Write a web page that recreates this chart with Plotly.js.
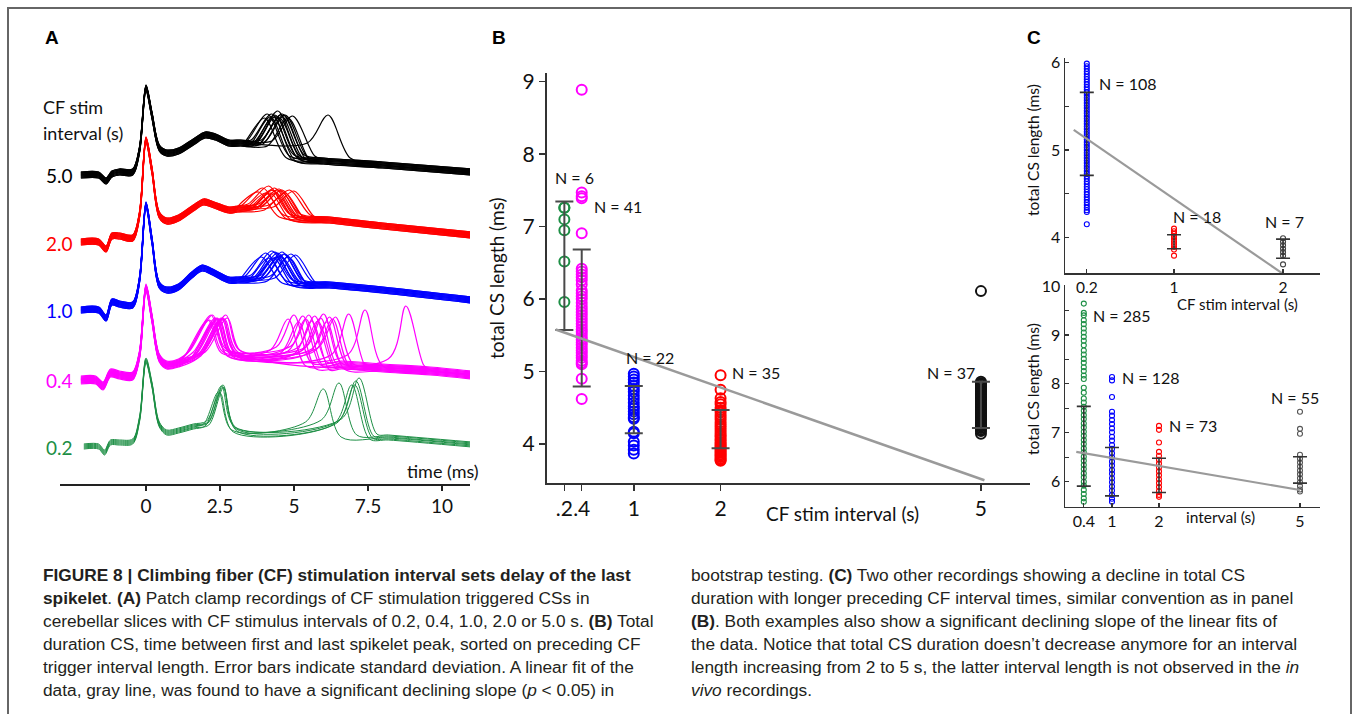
<!DOCTYPE html>
<html><head><meta charset="utf-8">
<script src="https://cdn.plot.ly/plotly-3.0.1.min.js"></script>
<style>html,body{margin:0;padding:0;background:#fff;}#chart{width:1354px;height:714px;}</style>
</head><body><div id="chart"></div>
<script>
// ================= DATA =================
// ---- Panel A: complex-spike waveforms (time ms, potential a.u. incl. stacking offset) ----
const aIntervalLabels = ['5.0', '2.0', '1.0', '0.4', '0.2'];
const aTickVals = [0, 2.5, 5, 7.5, 10];

// 5.0 s (black)
const blackPreT = [-2.2, -1.6, -1.35, -1.15, -0.9, -0.45, -0.22, 0, 0.2, 0.45, 0.7, 1.1, 1.6, 2.0, 2.35, 2.8, 3.2];
const blackPreV = [309, 309, 303, 310, 312, 312, 334, 396, 369, 336, 331, 333, 342, 349, 347, 341, 341];
const blackLastT = [4.0, 4.1, 4.2, 4.25, 4.3, 4.35, 4.4, 4.45, 4.5, 4.55, 4.6, 4.65, 4.7, 4.8, 4.95, 6.15];
const blackLastV = [366, 368, 369, 367, 370, 368, 369, 371, 368, 369, 367, 370, 368, 369, 366, 369];
const blackShift = [0, 2, -2, 3, -3, 1, -1, 2, -2, 0, 3, -1, 1, -3, 2, 0];
const blackTailT = [6.0, 8.0, 11.0];
const blackTailV = [323, 319, 312];
const blackEdges = [341, 326]; // level before / after last spikelet

// 2.0 s (red)
const redPreT = [-2.2, -1.6, -1.35, -1.15, -0.9, -0.45, -0.22, 0, 0.2, 0.45, 0.7, 1.1, 1.6, 1.95, 2.3, 2.8, 3.1];
const redPreV = [242, 242, 235, 248, 248, 246, 269, 344, 314, 269, 263, 266, 276, 282, 279, 274, 275];
const redLastT = [3.8, 3.95, 4.05, 4.15, 4.2, 4.25, 4.3, 4.35, 4.4, 4.45, 4.5, 4.55, 4.6, 4.7, 4.85, 5.0];
const redLastV = [292, 294, 293, 295, 294, 293, 295, 294, 293, 294, 292, 294, 293, 294, 292, 293];
const redShift = [0, 2, -2, 3, -3, 1, -1, 2, -2, 0, 3, -1, 1, -3, 2, 0];
const redTailT = [6.2, 8.0, 11.0];
const redTailV = [264, 258, 249];
const redEdges = [277, 267];

// 1.0 s (blue)
const bluePreT = [-2.2, -1.6, -1.35, -1.15, -0.9, -0.45, -0.22, 0, 0.2, 0.45, 0.7, 1.1, 1.55, 1.9, 2.25, 2.8, 3.1];
const bluePreV = [174, 174, 166, 182, 180, 179, 204, 279, 244, 199, 194, 197, 209, 216, 212, 204, 204];
const blueLastT = [3.9, 4.05, 4.15, 4.25, 4.3, 4.35, 4.4, 4.45, 4.5, 4.55, 4.6, 4.65, 4.7, 4.8, 4.9, 5.05];
const blueLastV = [227, 229, 228, 230, 229, 231, 228, 229, 230, 228, 229, 231, 229, 230, 228, 229];
const blueShift = [0, 2, -2, 3, -3, 1, -1, 2, -2, 0, 3, -1, 1, -3, 2, 0];
const blueTailT = [6.2, 8.0, 11.0];
const blueTailV = [199, 194, 184];
const blueEdges = [206, 201];

// 0.4 s (magenta)
const magPreT = [-2.2, -1.7, -1.45, -1.2, -0.9, -0.45, -0.22, 0, 0.2, 0.45, 0.7, 1.1];
const magPreV = [104, 104, 98, 111, 109, 108, 129, 196, 166, 126, 119, 121];
const magSecT = [2.1, 2.2, 2.3, 2.15, 2.4, 2.25, 2.5, 2.35, 2.6, 2.45, 2.7, 2.3, 2.55, 2.4, 2.75, 2.5, 2.6, 2.65];
const magSecV = [164, 166, 165, 163, 167, 165, 166, 164, 167, 165, 166, 163, 165, 166, 164, 165, 166, 164];
const magLastT = [4.8, 5.0, 5.15, 5.3, 5.4, 5.5, 5.6, 5.7, 5.8, 5.9, 6.0, 6.1, 6.2, 6.3, 6.4, 6.85, 7.4, 8.78];
const magLastV = [165, 166, 165, 167, 166, 165, 167, 166, 165, 166, 167, 165, 166, 166, 165, 172, 174, 177];
const magLastBase = [134, 134, 134, 134, 134, 134, 134, 134, 134, 134, 134, 134, 134, 134, 134, 131, 129, 124];
const magShift = [0, 3, -3, 1, -1, 4, -4, 2, -2, 0, 3, -3, 1, -1, 2, -2, 0, 1];
const magTailT = [6.6, 8.0, 9.6, 11.0];
const magTailV = [119, 116, 113, 109];
const magEdges = [130, 131, 118]; // before 2nd, after 2nd, after last

// 0.2 s (green)
const greenPreT = [-2.1, -1.6, -1.4, -1.2, -0.9, -0.45, -0.22, 0, 0.2, 0.45, 0.7, 1.1, 1.6];
const greenPreV = [37, 37, 31, 41, 41, 42, 64, 123, 99, 59, 51, 53, 57];
const greenSecT = [2.45, 2.6, 2.5, 2.6, 2.55, 2.62];
const greenSecV = [92, 97, 93, 96, 95, 97];
const greenLastT = [5.99, 6.52, 6.95, 7.09, 7.2, 7.05];
const greenLastV = [95, 99, 101, 102, 103, 100];
const greenLastBase = [62, 62, 62, 62, 62, 62];
const greenShift = [0, 2, -2, 1, 3, -1];
const greenTailT = [8.2, 11.0];
const greenTailV = [46, 39];
const greenEdges = [60, 54, 47];

// ---- Panel B: total CS length (ms) per CF stim interval (s) ----
const bIntervals = [0.2, 0.4, 1, 2, 5];
const bTickText = ['.2', '.4', '1', '2', '5'];
const bGreen = [7.26, 7.10, 6.95, 6.52, 5.96, 7.26];
const bMagenta = [8.89, 7.47, 7.42, 7.39, 6.91, 6.42, 6.38, 6.34, 6.30, 6.26, 6.20, 6.12, 6.08, 6.04, 6.00, 5.95, 5.90, 5.86, 5.82, 5.78, 5.74, 5.70, 5.66, 5.62, 5.58, 5.55, 5.51, 5.47, 5.44, 5.40, 5.37, 5.33, 5.29, 5.26, 5.22, 5.19, 5.15, 5.12, 5.10, 4.90, 4.62];
const bBlue = [4.97, 4.93, 4.89, 4.85, 4.80, 4.76, 4.72, 4.67, 4.62, 4.57, 4.52, 4.49, 4.45, 4.41, 4.37, 4.35, 4.17, 4.15, 4.03, 3.98, 3.92, 3.87];
const bRed = [4.95, 4.75, 4.63, 4.58, 4.55, 4.50, 4.47, 4.44, 4.40, 4.37, 4.34, 4.30, 4.27, 4.24, 4.21, 4.18, 4.15, 4.12, 4.10, 4.07, 4.05, 4.02, 4.00, 3.98, 3.96, 3.94, 3.92, 3.90, 3.88, 3.86, 3.84, 3.82, 3.80, 3.78, 3.77];
const bBlack = [6.11, 4.86, 4.84, 4.82, 4.80, 4.78, 4.76, 4.74, 4.72, 4.70, 4.68, 4.66, 4.64, 4.62, 4.60, 4.58, 4.56, 4.54, 4.52, 4.50, 4.48, 4.46, 4.44, 4.42, 4.40, 4.38, 4.36, 4.34, 4.32, 4.30, 4.28, 4.26, 4.24, 4.22, 4.20, 4.18, 4.14];
const bMean = [6.46, 5.74, 4.475, 4.205, 4.54];
const bSd = [0.885, 0.945, 0.325, 0.265, 0.32];
const bFitX = [0.1, 5.04];
const bFitY = [5.58, 3.50];
const bNText = ['N = 6', 'N = 41', 'N = 22', 'N = 35', 'N = 37'];
const bNX = [0.07, 0.52, 0.89, 2.11, 4.35];
const bNY = [7.68, 7.28, 5.19, 4.99, 4.99];

// ---- Panel C (top): second recording ----
const cTopIntervals = [0.2, 1, 2];
const cTopBlue = [5.99, 5.96, 5.93, 5.90, 5.87, 5.84, 5.81, 5.78, 5.75, 5.72, 5.69, 5.66, 5.63, 5.60, 5.57, 5.54, 5.51, 5.48, 5.45, 5.42, 5.39, 5.36, 5.33, 5.30, 5.27, 5.24, 5.21, 5.18, 5.15, 5.12, 5.09, 5.06, 5.03, 5.00, 4.97, 4.94, 4.91, 4.88, 4.85, 4.82, 4.79, 4.76, 4.73, 4.70, 4.67, 4.64, 4.61, 4.58, 4.55, 4.52, 4.49, 4.46, 4.43, 4.40, 4.37, 4.34, 4.31, 4.29, 4.15];
const cTopRed = [4.10, 4.07, 4.04, 4.01, 3.98, 3.95, 3.92, 3.89, 3.86, 3.79];
const cTopBlack = [3.99, 3.95, 3.91, 3.87, 3.83, 3.79, 3.69];
const cTopMean = [5.185, 3.95, 3.87];
const cTopSd = [0.475, 0.08, 0.11];
const cTopFitX = [0.08, 1.99];
const cTopFitY = [5.23, 3.59];
const cTopNText = ['N = 108', 'N = 18', 'N = 7'];
const cTopNX = [0.29, 0.97, 1.82];
const cTopNY = [5.76, 4.24, 4.18];

// ---- Panel C (bottom): third recording ----
const cBotIntervals = [0.4, 1, 2, 5];
const cBotGreen = [9.64, 9.45, 9.40, 9.30, 9.22, 9.13, 9.05, 8.96, 8.88, 8.79, 8.68, 8.60, 8.51, 8.43, 8.34, 8.26, 8.17, 8.10, 7.92, 7.82, 7.70, 7.62, 7.53, 7.45, 7.36, 7.28, 7.19, 7.11, 7.02, 6.94, 6.85, 6.77, 6.68, 6.60, 6.51, 6.43, 6.34, 6.26, 6.17, 6.09, 6.00, 5.92, 5.83, 5.75, 5.66, 5.59];
const cBotBlue = [8.14, 8.07, 7.73, 7.43, 7.35, 7.26, 7.18, 7.09, 7.01, 6.92, 6.84, 6.75, 6.67, 6.58, 6.50, 6.41, 6.33, 6.24, 6.16, 6.07, 5.99, 5.90, 5.82, 5.73, 5.65, 5.59];
const cBotRed = [7.14, 7.06, 6.80, 6.61, 6.53, 6.45, 6.37, 6.29, 6.21, 6.13, 6.05, 5.97, 5.89, 5.81, 5.73, 5.69];
const cBotBlack = [7.43, 7.08, 6.98, 6.55, 6.47, 6.39, 6.31, 6.23, 6.15, 6.07, 5.99, 5.91, 5.84, 5.80];
const cBotMean = [6.725, 6.205, 6.13, 6.24];
const cBotSd = [0.815, 0.495, 0.35, 0.27];
const cBotFitX = [0.24, 5.0];
const cBotFitY = [6.61, 5.83];
const cBotNText = ['N = 285', 'N = 128', 'N = 73', 'N = 55'];
const cBotNX = [0.56, 1.16, 2.17, 4.34];
const cBotNY = [9.40, 8.12, 7.14, 7.73];

// ================= BUILD =================
const W = 1354, H = 714;
const COL = {black: '#000000', red: '#ff0000', blue: '#0000ff', mag: '#ff00ff', green: '#1d8f45', grayBlack: '#444444'};
const FONT = 'Lato, "Open Sans", sans-serif';
const CAPFONT = '"Liberation Sans", Arial, sans-serif';
const traces = [];

function pushWave(t, v, color, width) {
  traces.push({x: t, y: v, type: 'scatter', mode: 'lines', xaxis: 'x', yaxis: 'y',
    line: {color: color, width: width, shape: 'spline', smoothing: 0.9}, hoverinfo: 'skip'});
}
// single late spikelet families (black, red, blue)
function family1(preT, preV, lastT, lastV, shift, tailT, tailV, edges, w1, w2, color) {
  lastT.forEach((tp, i) => {
    const s = shift[i];
    const t = preT.slice(), v = preV.map(a => a + s);
    t.push(tp - w1, tp, tp + w2); v.push(edges[0] + s, lastV[i] + s, edges[1] + s);
    tailT.forEach((tt, k) => { if (tt > tp + w2 + 0.1) { t.push(tt); v.push(tailV[k] + s); } });
    pushWave(t, v, color, 1.2);
  });
}
// second + last spikelet families (magenta, green)
function family2(preT, preV, secT, secV, lastT, lastV, lastBase, shift, tailT, tailV, edges, color, lw, r2) {
  lastT.forEach((tp, i) => {
    const s = shift[i], t2 = secT[i];
    const t = preT.slice(), v = preV.map(a => a + s);
    t.push(t2 - r2, t2, t2 + 0.45, tp - 0.6, tp, tp + 0.6);
    v.push(edges[0] + s, secV[i] + s, edges[1] + s, lastBase[i] + s, lastV[i] + s, edges[2] + s);
    tailT.forEach((tt, k) => { if (tt > tp + 0.7) { t.push(tt); v.push(tailV[k] + s); } });
    pushWave(t, v, color, lw);
  });
}
family1(blackPreT, blackPreV, blackLastT, blackLastV, blackShift, blackTailT, blackTailV, blackEdges, 0.7, 0.75, COL.black);
family1(redPreT, redPreV, redLastT, redLastV, redShift, redTailT, redTailV, redEdges, 0.7, 0.7, COL.red);
family1(bluePreT, bluePreV, blueLastT, blueLastV, blueShift, blueTailT, blueTailV, blueEdges, 0.7, 0.7, COL.blue);
family2(magPreT, magPreV, magSecT, magSecV, magLastT, magLastV, magLastBase, magShift, magTailT, magTailV, magEdges, COL.mag, 1.2, 0.75);
family2(greenPreT, greenPreV, greenSecT, greenSecV, greenLastT, greenLastV, greenLastBase, greenShift, greenTailT, greenTailV, greenEdges, COL.green, 1.0, 0.5);

// scatter columns
function column(xv, ys, color, ax, size, lw) {
  traces.push({x: ys.map(() => xv), y: ys, type: 'scatter', mode: 'markers', xaxis: ax[0], yaxis: ax[1],
    marker: {symbol: 'circle-open', size: size, color: color, line: {width: lw, color: color}}, hoverinfo: 'skip'});
}
function errs(xs, means, sds, ax, w, th, color) {
  traces.push({x: xs, y: means, type: 'scatter', mode: 'markers', xaxis: ax[0], yaxis: ax[1],
    marker: {size: 1, color: 'rgba(0,0,0,0)'}, hoverinfo: 'skip',
    error_y: {type: 'data', array: sds, visible: true, color: color, thickness: th, width: w}});
}
function fit(xs, ys, ax, w) {
  traces.push({x: xs, y: ys, type: 'scatter', mode: 'lines', xaxis: ax[0], yaxis: ax[1],
    line: {color: '#9a9a9a', width: w}, hoverinfo: 'skip'});
}
const axB = ['x2', 'y2'], axCt = ['x3', 'y3'], axCb = ['x4', 'y4'];
[bGreen, bMagenta, bBlue, bRed, bBlack].forEach((col, i) =>
  column(bIntervals[i], col, [COL.green, COL.mag, COL.blue, COL.red, '#111111'][i], axB, 10, 2));
errs(bIntervals, bMean, bSd, axB, 9, 2, '#4a4a4a');
fit(bFitX, bFitY, axB, 2.5);

[cTopBlue, cTopRed, cTopBlack].forEach((col, i) =>
  column(cTopIntervals[i], col, [COL.blue, COL.red, COL.grayBlack][i], axCt, 5, 1.1));
errs(cTopIntervals, cTopMean, cTopSd, axCt, 7, 1.6, '#333333');
fit(cTopFitX, cTopFitY, axCt, 2.2);

[cBotGreen, cBotBlue, cBotRed, cBotBlack].forEach((col, i) =>
  column(cBotIntervals[i], col, [COL.green, COL.blue, COL.red, '#555555'][i], axCb, 5, 1.1));
errs(cBotIntervals, cBotMean, cBotSd, axCb, 7, 1.6, '#333333');
fit(cBotFitX, cBotFitY, axCb, 2.2);

// ================= LAYOUT =================
const dx = p => p / W, dy = p => 1 - p / H;
const ann = [];
function txt(x, y, text, size, opts) {
  ann.push(Object.assign({xref: 'paper', yref: 'paper', x: dx(x), y: dy(y), text: text, showarrow: false,
    xanchor: 'left', yanchor: 'middle', font: {family: FONT, size: size, color: '#111'}}, opts || {}));
}
const letterFont = {family: '"Liberation Sans", Arial, sans-serif', size: 19, color: '#000'};
txt(43, 37, '<b>A</b>', 19, {font: letterFont});
txt(490, 37, '<b>B</b>', 19, {font: letterFont});
txt(1025, 37, '<b>C</b>', 19, {font: letterFont});
// panel A labels
txt(41, 107, 'CF stim', 18);
txt(41, 133, 'interval (s)', 18);
const aLabelY = [175, 243, 310, 380, 447];
const aLabelCol = [COL.black, COL.red, COL.blue, COL.mag, COL.green];
aIntervalLabels.forEach((l, i) => txt(44, aLabelY[i], l, 19, {font: {family: FONT, size: 19, color: aLabelCol[i]}}));
txt(405, 471, 'time (ms)', 18);
// axis titles
txt(497, 278, 'total CS length (ms)', 19, {xanchor: 'center', textangle: -90});
txt(842, 513, 'CF stim interval (s)', 19, {xanchor: 'center'});
txt(1033, 150, 'total CS length (ms)', 15.5, {xanchor: 'center', textangle: -90});
txt(1237, 304, 'CF stim interval (s)', 15, {xanchor: 'center'});
txt(1033, 389, 'total CS length (ms)', 15.5, {xanchor: 'center', textangle: -90});
txt(1220, 517, 'interval (s)', 15.5, {xanchor: 'center'});
// N labels
function nLabels(texts, xs, ys, xr, yr, size) {
  texts.forEach((t, i) => ann.push({xref: xr, yref: yr, x: xs[i], y: ys[i], text: t, showarrow: false,
    xanchor: 'left', yanchor: 'middle', font: {family: FONT, size: size, color: '#111'}}));
}
nLabels(bNText, bNX, bNY, 'x2', 'y2', 16);
nLabels(cTopNText, cTopNX, cTopNY, 'x3', 'y3', 16);
nLabels(cBotNText, cBotNX, cBotNY, 'x4', 'y4', 16);
// caption
const capLeft = [
  '<b>FIGURE 8 | Climbing fiber (CF) stimulation interval sets delay of the last</b>',
  '<b>spikelet</b>. <b>(A)</b> Patch clamp recordings of CF stimulation triggered CSs in',
  'cerebellar slices with CF stimulus intervals of 0.2, 0.4, 1.0, 2.0 or 5.0 s. <b>(B)</b> Total',
  'duration CS, time between first and last spikelet peak, sorted on preceding CF',
  'trigger interval length. Error bars indicate standard deviation. A linear fit of the',
  'data, gray line, was found to have a significant declining slope (<i>p</i> &lt; 0.05) in'
];
const capRight = [
  'bootstrap testing. <b>(C)</b> Two other recordings showing a decline in total CS',
  'duration with longer preceding CF interval times, similar convention as in panel',
  '<b>(B)</b>. Both examples also show a significant declining slope of the linear fits of',
  'the data. Notice that total CS duration doesn\u2019t decrease anymore for an interval',
  'length increasing from 2 to 5 s, the latter interval length is not observed in the <i>in</i>',
  '<i>vivo</i> recordings.'
];
const capY = [575, 598, 621, 644, 667, 690];
const capFont = {family: CAPFONT, size: 17.3, color: '#231f20'};
capLeft.forEach((l, i) => txt(41, capY[i], l, 17.3, {font: capFont}));
capRight.forEach((l, i) => txt(689, capY[i], l, 17.3, {font: capFont}));

const tickFont = s => ({family: FONT, size: s, color: '#111'});
const base = {showgrid: false, zeroline: false, showline: true, fixedrange: true, tickangle: 0};
const layout = {
  width: W, height: H, margin: {l: 0, r: 0, t: 0, b: 0}, paper_bgcolor: '#fff', plot_bgcolor: 'rgba(0,0,0,0)',
  showlegend: false,
  xaxis: Object.assign({}, base, {domain: [dx(60), dx(470)], anchor: 'y', range: [-2.905, 10.946],
    linecolor: '#222', linewidth: 1.5, ticks: 'outside', ticklen: 5, tickwidth: 1.2, tickcolor: '#222',
    tickvals: aTickVals, ticktext: ['0', '2.5', '5', '7.5', '10'], tickfont: tickFont(19)}),
  yaxis: {domain: [dy(484), dy(60)], anchor: 'x', range: [0, 424], visible: false, fixedrange: true},
  xaxis2: Object.assign({}, base, {domain: [dx(547), dx(1030)], anchor: 'y2', range: [0, 5.565],
    linecolor: '#333', linewidth: 2, ticks: 'outside', ticklen: 6, tickwidth: 1.5, tickcolor: '#333',
    tickvals: bIntervals, ticktext: bTickText, tickfont: tickFont(21)}),
  yaxis2: Object.assign({}, base, {domain: [dy(483), dy(73)], anchor: 'x2', range: [3.462, 9.12],
    linecolor: '#333', linewidth: 2, ticks: 'outside', ticklen: 6, tickwidth: 1.5, tickcolor: '#333',
    tickvals: [4, 5, 6, 7, 8, 9], tickfont: tickFont(21)}),
  xaxis3: Object.assign({}, base, {domain: [dx(1065), dx(1320)], anchor: 'y3', range: [0, 2.339],
    linecolor: '#333', linewidth: 1.5, ticks: 'inside', ticklen: 4, tickwidth: 1.2, tickcolor: '#333',
    tickvals: cTopIntervals, ticktext: ['0.2', '1', '2'], tickfont: tickFont(15.5)}),
  yaxis3: Object.assign({}, base, {domain: [dy(273.3), dy(58)], anchor: 'x3', range: [3.588, 6.054],
    linecolor: '#333', linewidth: 1.5, ticks: 'inside', ticklen: 4, tickwidth: 1.2, tickcolor: '#333',
    tickvals: [4, 4.5, 5, 5.5, 6], ticktext: ['4', '', '5', '', '6'], tickfont: tickFont(16)}),
  xaxis4: Object.assign({}, base, {domain: [dx(1065), dx(1320)], anchor: 'y4', range: [0, 5.426],
    linecolor: '#333', linewidth: 1.5, ticks: 'inside', ticklen: 4, tickwidth: 1.2, tickcolor: '#333',
    tickvals: cBotIntervals, ticktext: ['0.4', '1', '2', '5'], tickfont: tickFont(16)}),
  yaxis4: Object.assign({}, base, {domain: [dy(506.7), dy(285)], anchor: 'x4', range: [5.489, 10.02],
    linecolor: '#333', linewidth: 1.5, ticks: 'inside', ticklen: 4, tickwidth: 1.2, tickcolor: '#333',
    tickvals: [6, 6.5, 7, 7.5, 8, 8.5, 9, 9.5, 10], ticktext: ['6', '', '7', '', '8', '', '9', '', '10'], tickfont: tickFont(16)}),
  annotations: ann,
  shapes: [{type: 'rect', xref: 'paper', yref: 'paper', x0: dx(8), x1: dx(1351), y0: -0.05, y1: dy(8),
    line: {color: '#666', width: 2}, fillcolor: 'rgba(0,0,0,0)'}]
};
Plotly.newPlot('chart', traces, layout, {staticPlot: true, displayModeBar: false});
</script></body></html>
